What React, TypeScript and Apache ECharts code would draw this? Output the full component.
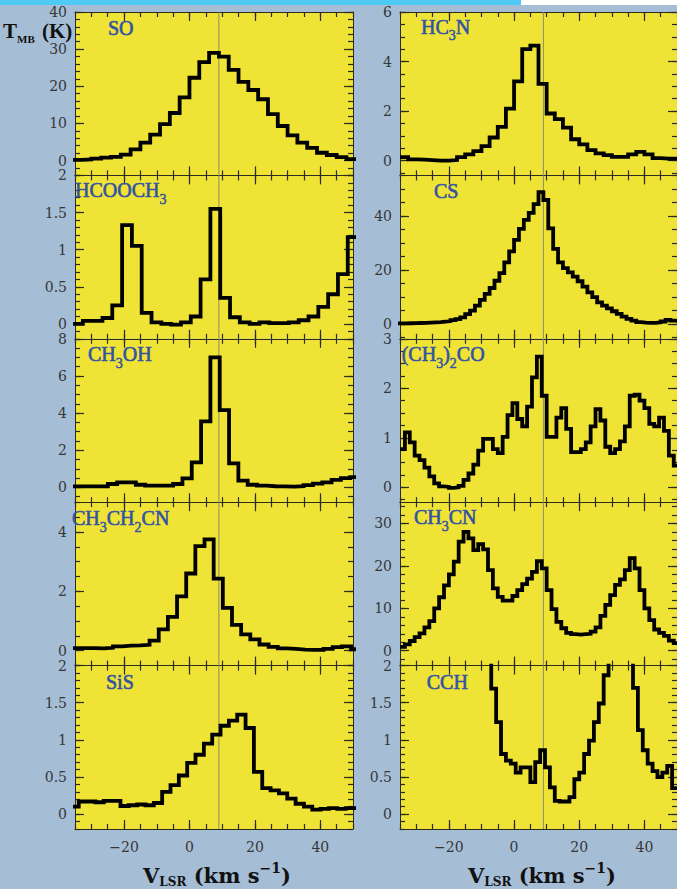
import { useEffect, useRef } from 'react';
import * as echarts from 'echarts';

// Each spectrum: velocity of the first channel's left edge, channel width (km/s),
// and main-beam brightness temperature of every channel (K).
const soStart = -36;
const soWidth = 3;
const soTmb = [0.2, 0.3, 0.5, 0.8, 1.0, 1.6, 3.0, 4.8, 7.0, 9.8, 12.8, 17.0, 22.3, 26.5, 29.0, 28.0, 24.4, 21.2, 19.0, 16.5, 12.5, 9.3, 6.8, 4.8, 3.4, 2.1, 1.5, 0.9, 0.4];

const hcoochStart = -35.6;
const hcoochWidth = 3;
const hcoochTmb = [0.0, 0.04, 0.04, 0.08, 0.25, 1.33, 1.05, 0.15, 0.02, 0.0, -0.01, 0.02, 0.1, 0.6, 1.55, 0.35, 0.09, 0.02, 0.0, 0.02, 0.01, 0.01, 0.02, 0.05, 0.1, 0.23, 0.4, 0.67, 1.17];

const ch3ohStart = -36.35;
const ch3ohWidth = 2.85;
const ch3ohTmb = [0.05, 0.05, 0.05, 0.05, 0.18, 0.27, 0.27, 0.14, 0.09, 0.09, 0.09, 0.18, 0.48, 1.35, 3.55, 7.0, 4.16, 1.29, 0.36, 0.14, 0.09, 0.06, 0.05, 0.04, 0.06, 0.12, 0.2, 0.27, 0.4, 0.5, 0.55];

const etcnStart = -37.4;
const etcnWidth = 2.8;
const etcnTmb = [0.09, 0.09, 0.09, 0.08, 0.1, 0.15, 0.17, 0.18, 0.2, 0.34, 0.72, 1.14, 1.83, 2.6, 3.52, 3.75, 2.43, 1.44, 0.87, 0.55, 0.38, 0.21, 0.13, 0.08, 0.06, 0.04, 0.03, 0.03, 0.06, 0.12, 0.15, 0.05];

const sisStart = -36.4;
const sisWidth = 2.55;
const sisTmb = [0.1, 0.17, 0.17, 0.16, 0.18, 0.18, 0.11, 0.12, 0.13, 0.12, 0.15, 0.3, 0.39, 0.52, 0.69, 0.8, 0.95, 1.07, 1.19, 1.26, 1.34, 1.16, 0.57, 0.35, 0.32, 0.28, 0.21, 0.14, 0.1, 0.06, 0.07, 0.08, 0.07, 0.08, 0.08];

const hc3nStart = -35;
const hc3nWidth = 2.5;
const hc3nTmb = [0.14, 0.05, 0.04, 0.02, 0.0, 0.0, 0.02, 0.14, 0.25, 0.38, 0.58, 0.93, 1.36, 2.1, 3.2, 4.5, 4.64, 3.1, 1.9, 1.67, 1.33, 0.86, 0.65, 0.42, 0.29, 0.22, 0.15, 0.15, 0.25, 0.35, 0.25, 0.1, 0.08, 0.08];

const csStart = -36;
const csWidth = 1.5;
const csTmb = [0.2, 0.2, 0.25, 0.3, 0.35, 0.4, 0.5, 0.6, 0.7, 0.9, 1.1, 1.4, 1.8, 2.4, 3.6, 4.9, 6.8, 8.9, 11.1, 13.3, 16.0, 18.8, 22.8, 26.9, 31.1, 35.2, 38.5, 41.1, 44.4, 48.8, 45.9, 35.4, 27.8, 22.8, 20.7, 19.1, 17.5, 15.8, 13.8, 11.7, 9.9, 8.0, 6.8, 5.8, 4.7, 3.7, 2.7, 1.9, 1.2, 0.7, 0.5, 0.4, 0.4, 0.6, 0.9, 1.5, 1.2, 1.0];

const acetoneStart = -35;
const acetoneWidth = 1.5;
const acetoneTmb = [0.77, 1.11, 0.91, 0.64, 0.55, 0.4, 0.22, 0.08, 0.02, 0.01, -0.01, 0.0, 0.03, 0.15, 0.28, 0.46, 0.74, 0.98, 0.98, 0.77, 0.69, 1.02, 1.46, 1.7, 1.38, 1.23, 1.63, 2.22, 2.64, 1.85, 1.02, 1.02, 1.41, 1.6, 1.18, 0.71, 0.71, 0.77, 0.91, 1.23, 1.58, 1.35, 0.82, 0.69, 0.77, 0.93, 1.23, 1.85, 1.87, 1.75, 1.6, 1.28, 1.23, 1.41, 1.14, 0.64, 0.44];

const ch3cnStart = -35;
const ch3cnWidth = 1.5;
const ch3cnTmb = [0.9, 1.5, 2.3, 3.2, 4.1, 5.5, 7.0, 10.0, 12.6, 15.4, 18.0, 21.0, 25.7, 28.0, 26.5, 23.7, 25.1, 23.9, 19.0, 14.7, 12.7, 11.8, 11.8, 12.9, 14.3, 15.7, 17.0, 18.6, 21.1, 19.4, 14.3, 9.8, 6.8, 5.3, 4.2, 3.9, 3.8, 3.9, 4.0, 4.5, 5.5, 8.2, 10.8, 13.1, 15.5, 16.8, 19.0, 21.8, 19.4, 14.3, 10.0, 7.2, 5.0, 4.2, 3.5, 2.4, 1.8];

const cchStart = -35.5;
const cchWidth = 1.5;
const cchTmb = [3.1, 3.4, 3.6, 3.3, 2.9, 2.6, 2.5, 2.7, 3.2, 3.9, 4.5, 4.8, 4.6, 4.1, 3.6, 3.1, 2.8, 2.5, 2.3, 1.69, 1.24, 0.81, 0.72, 0.68, 0.56, 0.63, 0.63, 0.43, 0.7, 0.86, 0.63, 0.36, 0.18, 0.17, 0.17, 0.23, 0.47, 0.56, 0.81, 0.99, 1.24, 1.49, 1.87, 2.4, 3.0, 3.4, 3.2, 2.6, 1.7, 1.13, 0.86, 0.68, 0.58, 0.5, 0.56, 0.65, 0.35];

// Tick labels
const velocityTicks = [-20, 0, 20, 40];
const soTicks = [0, 10, 20, 30, 40];
const hcoochTicks = [0, 0.5, 1, 1.5, 2];
const ch3ohTicks = [0, 2, 4, 6, 8];
const etcnTicks = [0, 2, 4];
const sisTicks = [0, 0.5, 1, 1.5, 2];
const hc3nTicks = [0, 2, 4, 6];
const csTicks = [0, 20, 40];
const acetoneTicks = [0, 1, 2, 3];
const ch3cnTicks = [0, 10, 20, 30];
const cchTicks = [0, 0.5, 1, 1.5, 2];

// Source systemic velocity (km/s)
const systemicVelocity = 9;

const V_MIN = -35;
const V_MAX = 50;

type Panel = {
  label: string;
  start: number;
  width: number;
  tmb: number[];
  ticks: number[];
  min: number;
  max: number;
  minor: number;
};

const panels: Panel[] = [
  { label: '{m|SO}', start: soStart, width: soWidth, tmb: soTmb, ticks: soTicks, min: -4, max: 40, minor: 2 },
  { label: '{m|HCOOCH}{s|3}', start: hcoochStart, width: hcoochWidth, tmb: hcoochTmb, ticks: hcoochTicks, min: -0.2, max: 2, minor: 0.1 },
  { label: '{m|CH}{s|3}{m|OH}', start: ch3ohStart, width: ch3ohWidth, tmb: ch3ohTmb, ticks: ch3ohTicks, min: -0.8, max: 8, minor: 0.5 },
  { label: '{m|CH}{s|3}{m|CH}{s|2}{m|CN}', start: etcnStart, width: etcnWidth, tmb: etcnTmb, ticks: etcnTicks, min: -0.5, max: 5, minor: 0.5 },
  { label: '{m|SiS}', start: sisStart, width: sisWidth, tmb: sisTmb, ticks: sisTicks, min: -0.2, max: 2, minor: 0.1 },
  { label: '{m|HC}{s|3}{m|N}', start: hc3nStart, width: hc3nWidth, tmb: hc3nTmb, ticks: hc3nTicks, min: -0.6, max: 6, minor: 0.5 },
  { label: '{m|CS}', start: csStart, width: csWidth, tmb: csTmb, ticks: csTicks, min: -5.5, max: 55, minor: 5 },
  { label: '{m|(CH}{s|3}{m|)}{s|2}{m|CO}', start: acetoneStart, width: acetoneWidth, tmb: acetoneTmb, ticks: acetoneTicks, min: -0.3, max: 3, minor: 0.25 },
  { label: '{m|CH}{s|3}{m|CN}', start: ch3cnStart, width: ch3cnWidth, tmb: ch3cnTmb, ticks: ch3cnTicks, min: -3.5, max: 35, minor: 2 },
  { label: '{m|CCH}', start: cchStart, width: cchWidth, tmb: cchTmb, ticks: cchTicks, min: -0.2, max: 2, minor: 0.1 },
];

// Layout
const COL_LEFT = [75, 400];
const PLOT_TOP = 12;
const PLOT_W = 278;
const PLOT_H = 163.4;
const LABEL_POS: [number, number][] = [
  [108, 28.3], [75, 190], [88, 354.2], [72, 518.3], [106, 681.7],
  [421, 26.7], [434, 190.7], [401.7, 354.2], [414, 517.2], [426.7, 681.7],
];

const PAGE_BG = '#a5bed6';
const PANEL_BG = '#efe336';
const AXIS_COLOR = '#2b2b22';
const TICK_COLOR = '#2b2b22';
const LABEL_COLOR = '#363636';
const SPECIES_COLOR = '#3353a3';
const VLINE_COLOR = '#8c8a70';
const SERIF = 'DejaVu Serif';

function stepValues(min: number, max: number, step: number): number[] {
  const out: number[] = [];
  const first = Math.ceil(min / step - 1e-9);
  const last = Math.floor(max / step + 1e-9);
  for (let k = first; k <= last; k++) out.push(+(k * step).toFixed(6));
  return out;
}

function histogram(p: Panel): number[][] {
  const pts = p.tmb.map((t, k) => [p.start + k * p.width, t]);
  pts.push([p.start + p.tmb.length * p.width, p.tmb[p.tmb.length - 1]]);
  return pts;
}

const fmtVelocity = (v: number) => (v < 0 ? '\u2212' + Math.abs(v) : String(v));

function buildOption() {
  const grid: any[] = [];
  const xAxis: any[] = [];
  const yAxis: any[] = [];
  const series: any[] = [];
  const tickLine = { color: TICK_COLOR, width: 1.2 };
  const xMinor = stepValues(V_MIN, V_MAX, 5);

  panels.forEach((p, i) => {
    const col = i < 5 ? 0 : 1;
    const row = i % 5;
    grid.push({
      left: COL_LEFT[col],
      top: PLOT_TOP + row * PLOT_H,
      width: PLOT_W,
      height: PLOT_H,
      show: true,
      backgroundColor: PANEL_BG,
      borderWidth: 0,
    });

    const xBase = xAxis.length;
    (['bottom', 'top'] as const).forEach((pos) => {
      xAxis.push({
        gridIndex: i, type: 'value', min: V_MIN, max: V_MAX, position: pos,
        axisLine: { show: true, onZero: false, lineStyle: { color: AXIS_COLOR, width: 1 } },
        axisTick: { show: true, inside: true, length: 9, customValues: velocityTicks, lineStyle: tickLine },
        axisLabel: {
          show: pos === 'bottom' && row === 4, customValues: velocityTicks, formatter: fmtVelocity,
          fontFamily: SERIF, fontSize: 14, color: LABEL_COLOR, margin: 11,
        },
        splitLine: { show: false },
      });
      xAxis.push({
        gridIndex: i, type: 'value', min: V_MIN, max: V_MAX, position: pos,
        axisLine: { show: false, onZero: false },
        axisTick: { show: true, inside: true, length: 5, customValues: xMinor, lineStyle: tickLine },
        axisLabel: { show: false },
        splitLine: { show: false },
      });
    });

    const yBase = yAxis.length;
    const yMinor = stepValues(p.min, p.max, p.minor);
    (['left', 'right'] as const).forEach((pos) => {
      yAxis.push({
        gridIndex: i, type: 'value', min: p.min, max: p.max, position: pos,
        axisLine: { show: true, onZero: false, lineStyle: { color: AXIS_COLOR, width: 1 } },
        axisTick: { show: true, inside: true, length: 9, customValues: p.ticks, lineStyle: tickLine },
        axisLabel: {
          show: pos === 'left', customValues: p.ticks,
          fontFamily: SERIF, fontSize: 14, lineHeight: 12, color: LABEL_COLOR, margin: 8,
        },
        splitLine: { show: false },
      });
      yAxis.push({
        gridIndex: i, type: 'value', min: p.min, max: p.max, position: pos,
        axisLine: { show: false, onZero: false },
        axisTick: { show: true, inside: true, length: 5, customValues: yMinor, lineStyle: tickLine },
        axisLabel: { show: false },
        splitLine: { show: false },
      });
    });

    series.push({
      type: 'line', xAxisIndex: xBase, yAxisIndex: yBase,
      data: [[systemicVelocity, p.min], [systemicVelocity, p.max]],
      symbol: 'none', silent: true, z: 2,
      lineStyle: { color: VLINE_COLOR, width: 1 },
    });
    series.push({
      type: 'line', xAxisIndex: xBase, yAxisIndex: yBase,
      data: histogram(p), step: 'end',
      symbol: 'none', silent: true, z: 3, clip: true,
      lineStyle: { color: '#000', width: 3.8, join: 'miter', cap: 'butt' },
    });
  });

  const speciesRich = {
    m: { fontFamily: 'Liberation Serif', fontSize: 20, fill: SPECIES_COLOR, stroke: SPECIES_COLOR, lineWidth: 0.6 },
    s: {
      fontFamily: 'Liberation Serif', fontSize: 14, fill: SPECIES_COLOR, stroke: SPECIES_COLOR, lineWidth: 0.5,
      padding: [18, 0, 0, 0],
    },
  };

  const graphic: any[] = [
    { type: 'rect', shape: { x: 0, y: 0, width: 521, height: 5 }, style: { fill: '#4ecaf5' }, z: 50 },
    { type: 'rect', shape: { x: 521, y: 0, width: 156, height: 5 }, style: { fill: '#ffffff' }, z: 50 },
  ];

  panels.forEach((p, i) => {
    graphic.push({
      type: 'text', x: LABEL_POS[i][0], y: LABEL_POS[i][1], z: 60,
      style: { text: p.label, rich: speciesRich, align: 'left', verticalAlign: 'middle' },
    });
  });

  // Ordinate title: T, subscript MB, (K)
  const unitFont = { fontFamily: 'Liberation Serif', fontWeight: 'bold', fill: '#111', align: 'left', verticalAlign: 'middle' };
  graphic.push(
    { type: 'text', x: 3, y: 30.6, z: 60, style: { ...unitFont, text: 'T', fontSize: 21 } },
    { type: 'text', x: 17, y: 39, z: 60, style: { ...unitFont, text: 'MB', fontSize: 11 } },
    { type: 'text', x: 42, y: 30.6, z: 60, style: { ...unitFont, text: '(K)', fontSize: 21 } },
  );

  const titleRich = {
    v: { fontFamily: SERIF, fontWeight: 'bold', fontSize: 21, fill: '#111' },
    s: { fontFamily: SERIF, fontWeight: 'bold', fontSize: 12, fill: '#111', padding: [13, 0, 0, 0] },
    p: { fontFamily: SERIF, fontWeight: 'bold', fontSize: 14, fill: '#111', padding: [0, 0, 15, 0] },
  };
  [143, 468].forEach((x) => {
    graphic.push({
      type: 'text', x, y: 875, z: 60,
      style: { text: '{v|V}{s|LSR}{v| (km s}{p|\u22121}{v|)}', rich: titleRich, align: 'left', verticalAlign: 'middle' },
    });
  });

  return {
    animation: false,
    backgroundColor: PAGE_BG,
    textStyle: { fontFamily: SERIF },
    grid,
    xAxis,
    yAxis,
    series,
    graphic,
  };
}

export default function App() {
  const ref = useRef<HTMLDivElement>(null);
  useEffect(() => {
    if (!ref.current) return;
    const chart = echarts.init(ref.current, undefined, { renderer: 'svg' });
    chart.setOption(buildOption() as any);
    return () => chart.dispose();
  }, []);
  return (
    <div
      ref={ref}
      style={{ position: 'absolute', left: 0, top: 0, width: 677, height: 889 }}
    />
  );
}
